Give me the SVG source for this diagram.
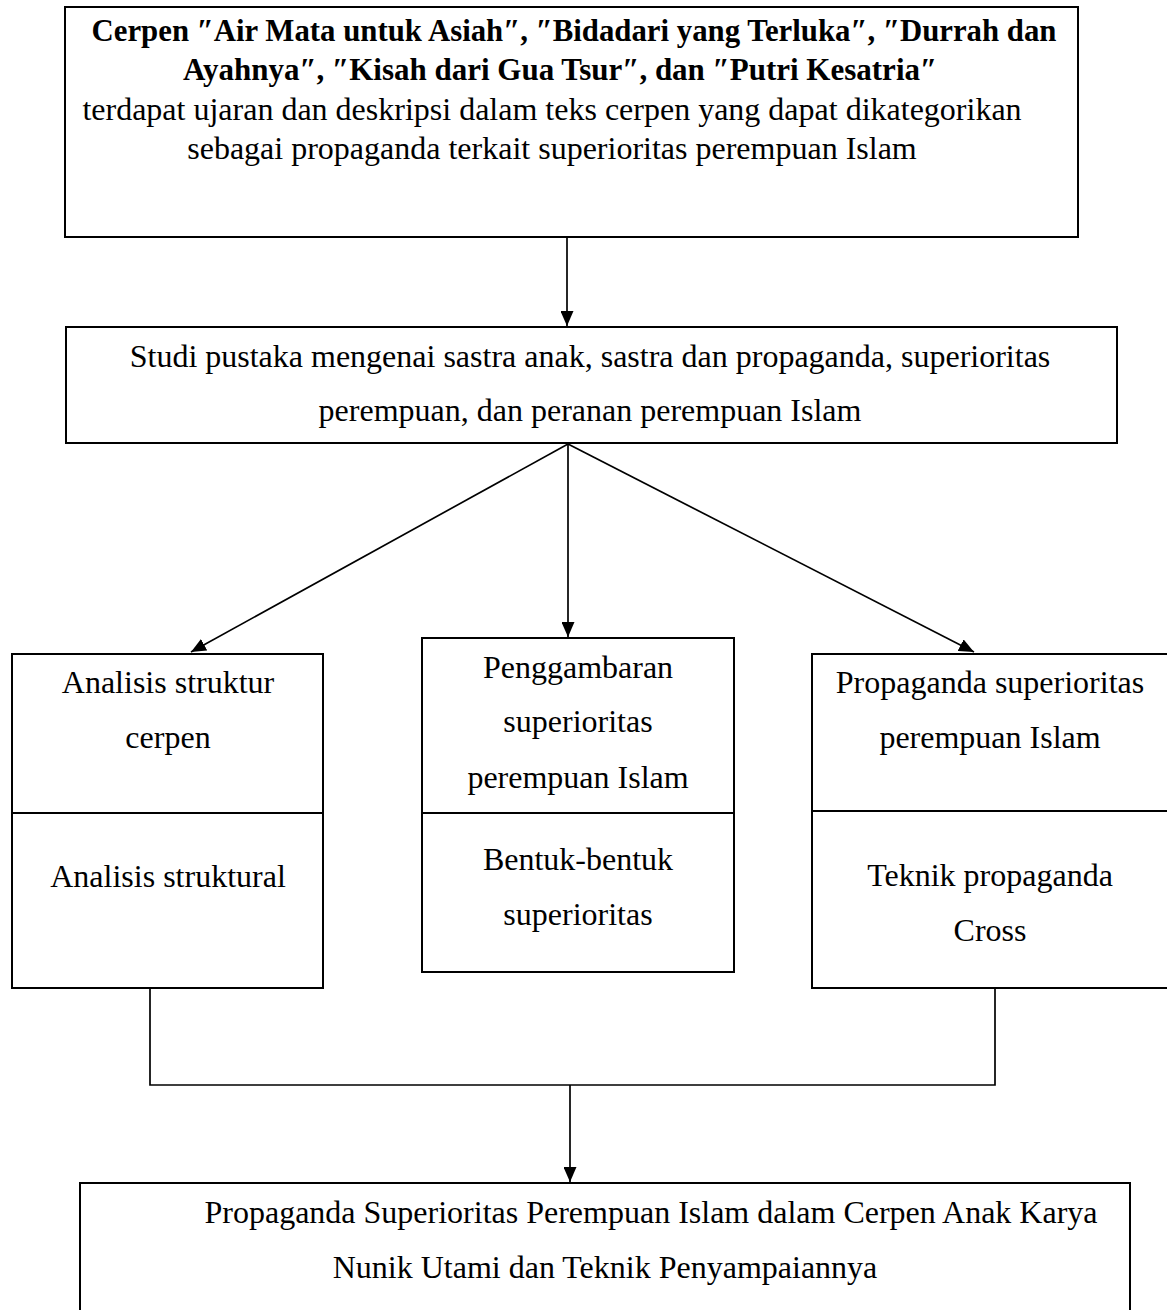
<svg xmlns="http://www.w3.org/2000/svg" width="1167" height="1310" viewBox="0 0 1167 1310">
<style>
.box{fill:#fff;stroke:#000;stroke-width:2}
.div{stroke:#000;stroke-width:2}
.t{font-family:"Liberation Serif","Times New Roman",serif;font-size:32px;fill:#000;text-anchor:middle}
.b{font-weight:bold;font-size:31px}
.c{fill:none;stroke:#000;stroke-width:1.7}
</style>
<defs>
<marker id="ah" viewBox="0 0 15 13" refX="15" refY="6.5" markerWidth="15" markerHeight="13" markerUnits="userSpaceOnUse" orient="auto">
<path d="M0,0 L15,6.5 L0,13 Z" fill="#000"/>
</marker>
</defs>
<g id="connectors">
<line class="c" x1="567" y1="237" x2="567" y2="326" marker-end="url(#ah)"/>
<line class="c" x1="568" y1="444" x2="191" y2="652" marker-end="url(#ah)"/>
<line class="c" x1="568" y1="444" x2="568" y2="637" marker-end="url(#ah)"/>
<line class="c" x1="568" y1="444" x2="974" y2="652" marker-end="url(#ah)"/>
<polyline class="c" points="150,988 150,1085 995,1085 995,988"/>
<line class="c" x1="570" y1="1085" x2="570" y2="1182" marker-end="url(#ah)"/>
</g>
<g id="node-top">
<rect class="box" x="65" y="7" width="1013" height="230"/>
<text class="t b" x="574" y="41" textLength="965" lengthAdjust="spacingAndGlyphs">Cerpen ″Air Mata untuk Asiah″, ″Bidadari yang Terluka″, ″Durrah dan</text>
<text class="t b" x="560" y="80">Ayahnya″, ″Kisah dari Gua Tsur″, dan ″Putri Kesatria″</text>
<text class="t" x="552" y="120">terdapat ujaran dan deskripsi dalam teks cerpen yang dapat dikategorikan</text>
<text class="t" x="552" y="159">sebagai propaganda terkait superioritas perempuan Islam</text>
</g>
<g id="node-studi">
<rect class="box" x="66" y="327" width="1051" height="116"/>
<text class="t" x="590" y="367">Studi pustaka mengenai sastra anak, sastra dan propaganda, superioritas</text>
<text class="t" x="590" y="421">perempuan, dan peranan perempuan Islam</text>
</g>
<g id="node-analisis">
<rect class="box" x="12" y="654" width="311" height="334"/>
<line class="div" x1="12" y1="813" x2="323" y2="813"/>
<text class="t" x="168" y="693">Analisis struktur</text>
<text class="t" x="168" y="748">cerpen</text>
<text class="t" x="168" y="887">Analisis struktural</text>
</g>
<g id="node-penggambaran">
<rect class="box" x="422" y="638" width="312" height="334"/>
<line class="div" x1="422" y1="813" x2="734" y2="813"/>
<text class="t" x="578" y="678">Penggambaran</text>
<text class="t" x="578" y="732">superioritas</text>
<text class="t" x="578" y="788">perempuan Islam</text>
<text class="t" x="578" y="870">Bentuk-bentuk</text>
<text class="t" x="578" y="925">superioritas</text>
</g>
<g id="node-propaganda">
<rect class="box" x="812" y="654" width="360" height="334"/>
<line class="div" x1="812" y1="811" x2="1172" y2="811"/>
<text class="t" x="990" y="693">Propaganda superioritas</text>
<text class="t" x="990" y="748">perempuan Islam</text>
<text class="t" x="990" y="886">Teknik propaganda</text>
<text class="t" x="990" y="941">Cross</text>
</g>
<g id="node-hasil">
<rect class="box" x="80" y="1183" width="1050" height="200"/>
<text class="t" x="651" y="1223">Propaganda Superioritas Perempuan Islam dalam Cerpen Anak Karya</text>
<text class="t" x="605" y="1278">Nunik Utami dan Teknik Penyampaiannya</text>
</g>
</svg>
